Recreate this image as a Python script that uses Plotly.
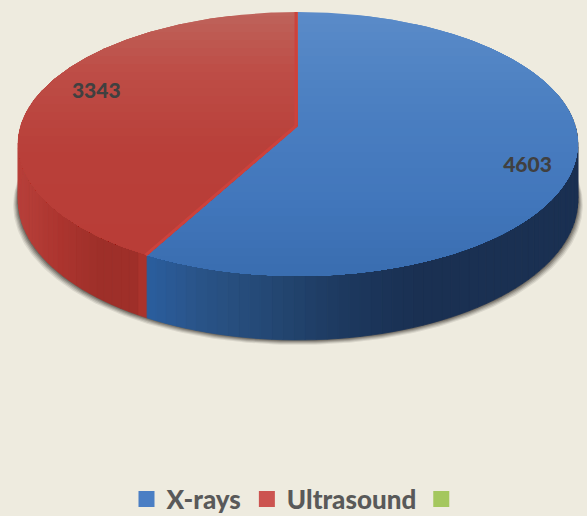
import numpy as np
import plotly.graph_objects as go

categories = ["X-rays", "Ultrasound", " "]
values = [4603, 3343, 0]
legend_colors = ["#4A7EC4", "#CC5450", "#A4C75E"]

W, H = 587, 516
BG = "#EEEBDF"
CX, CY, RX, RY, K, DEPTH = 298.0, 125.5, 277.0, 129.4, 0.14, 55.0


def project(u, v, drop=0.0):
    w = 1 + K * np.asarray(v)
    return CX + RX * np.asarray(u) / w, CY - RY * np.asarray(v) / w + drop / w


def hexrgb(h):
    return np.array([int(h[i:i + 2], 16) for i in (1, 3, 5)], float)


def ramp(stops, x):
    xs = [s[0] for s in stops]
    cols = np.array([hexrgb(s[1]) for s in stops])
    c = [np.interp(x, xs, cols[:, i]) for i in range(3)]
    return "rgb(%d,%d,%d)" % tuple(c)


def clip_below(px, py, y0):
    ox, oy = [], []
    n = len(px)
    for i in range(n):
        x1, y1, x2, y2 = px[i], py[i], px[(i + 1) % n], py[(i + 1) % n]
        if y1 >= y0:
            ox.append(x1); oy.append(y1)
        if (y1 >= y0) != (y2 >= y0):
            t = (y0 - y1) / (y2 - y1)
            ox.append(x1 + t * (x2 - x1)); oy.append(y0)
    return ox, oy


fig = go.Figure()


def poly(x, y, color, edge=0):
    fig.add_trace(go.Scatter(x=list(x) + [x[0]], y=list(y) + [y[0]], mode="lines", fill="toself",
                             fillcolor=color, line=dict(width=edge, color=color), hoverinfo="skip", showlegend=False))


total = sum(values)
fractions = np.array(values[:2]) / total
edges = np.concatenate([[0], np.cumsum(fractions)]) * 2 * np.pi

# soft shadow under the disc
ring = np.linspace(0, 2 * np.pi, 361)
for grow, dy, alpha in [(5, 5, 0.10), (4, 4, 0.14), (3, 3, 0.18), (2, 2, 0.24), (1, 1, 0.3)]:
    sx, sy = project(np.sin(ring), np.cos(ring), DEPTH)
    sx = CX + (sx - CX) * (1 + grow / RX)
    poly(sx, sy + dy, "rgba(45,40,35,%.2f)" % alpha)

# side wall
wall_stops = [
    [(20, "#B8403A"), (60, "#AD352F"), (100, "#9E302A"), (135, "#A02F29"), (148, "#B3362F")],
    [(148, "#2B5E9E"), (200, "#2A5488"), (280, "#234671"), (350, "#1D385E"), (420, "#1A3052"), (580, "#1B3153")],
]
for idx in (1, 0):
    a0, a1 = edges[idx], edges[idx + 1]
    t = np.linspace(a0, a1, int((a1 - a0) / np.radians(2)) + 2)
    for i in range(len(t) - 1):
        ta, tb = t[i], t[i + 1]
        if np.cos(ta) > 0.25 and np.cos(tb) > 0.25:
            continue
        xa, ya = project(np.sin(ta), np.cos(ta))
        xb, yb = project(np.sin(tb), np.cos(tb))
        xc, yc = project(np.sin(tb), np.cos(tb), DEPTH)
        xd, yd = project(np.sin(ta), np.cos(ta), DEPTH)
        wall_color = ramp(wall_stops[1 - idx], (xa + xb) / 2)
        poly([xa, xb, xc, xd], [ya, yb, yc, yd], wall_color, edge=0.8)

# top face with a vertical gradient
top_stops = [
    [(12, "#5B8BC9"), (100, "#4C80C2"), (200, "#4277BC"), (276, "#3A6EB0")],
    [(12, "#BF635B"), (70, "#BE4E47"), (150, "#B9403A"), (255, "#B93D37")],
]
for idx in (0, 1):
    a0, a1 = edges[idx], edges[idx + 1]
    t = np.linspace(a0, a1, 240)
    fx, fy = project(np.sin(t), np.cos(t))
    cx, cy = project(0.0, 0.0)
    px, py = list(fx) + [float(cx)], list(fy) + [float(cy)]
    for y0 in np.arange(8, 280, 8):
        qx, qy = clip_below(px, py, float(y0))
        if len(qx) > 2:
            poly(qx, qy, ramp(top_stops[idx], y0 + 4))

# bright seam between the two slices
cx, cy = project(0.0, 0.0)
for a, off in ((edges[0], -2), (edges[1], -1.5)):
    ex, ey = project(np.sin(a), np.cos(a))
    fig.add_trace(go.Scatter(x=[float(ex) + off, float(cx) + off], y=[float(ey), float(cy)], mode="lines",
                             line=dict(color="#CC423C", width=3), hoverinfo="skip", showlegend=False))

# value labels
label_uv = [(0.793, -0.308), (-0.755, 0.262)]
for val, (u, v) in zip(values, label_uv):
    lx, ly = project(u, v)
    fig.add_trace(go.Scatter(x=[float(lx)], y=[float(ly)], mode="text", text=[str(val)],
                             textposition="middle center", hoverinfo="skip", showlegend=False,
                             textfont=dict(family="Lato", size=21, color="#404040", weight=900)))

# legend entries
for name, col in zip(categories, legend_colors):
    fig.add_trace(go.Scatter(x=[None], y=[None], mode="markers", name=name,
                             marker=dict(symbol="square", size=16, color=col)))

fig.update_layout(
    width=W, height=H, margin=dict(l=0, r=0, t=0, b=0, autoexpand=False),
    paper_bgcolor=BG, plot_bgcolor=BG,
    xaxis=dict(range=[0, W], visible=False, fixedrange=True),
    yaxis=dict(range=[H, 0], visible=False, fixedrange=True),
    legend=dict(orientation="h", x=0.2155, xanchor="left", y=-0.013, yanchor="bottom",
                font=dict(family="Lato", size=26, color="#595959", weight=900),
                itemwidth=30, bgcolor="rgba(0,0,0,0)"),
)
fig.write_html("out.html", config={"displayModeBar": False},
               post_script="document.body.style.margin='0';document.body.style.overflow='hidden';")
